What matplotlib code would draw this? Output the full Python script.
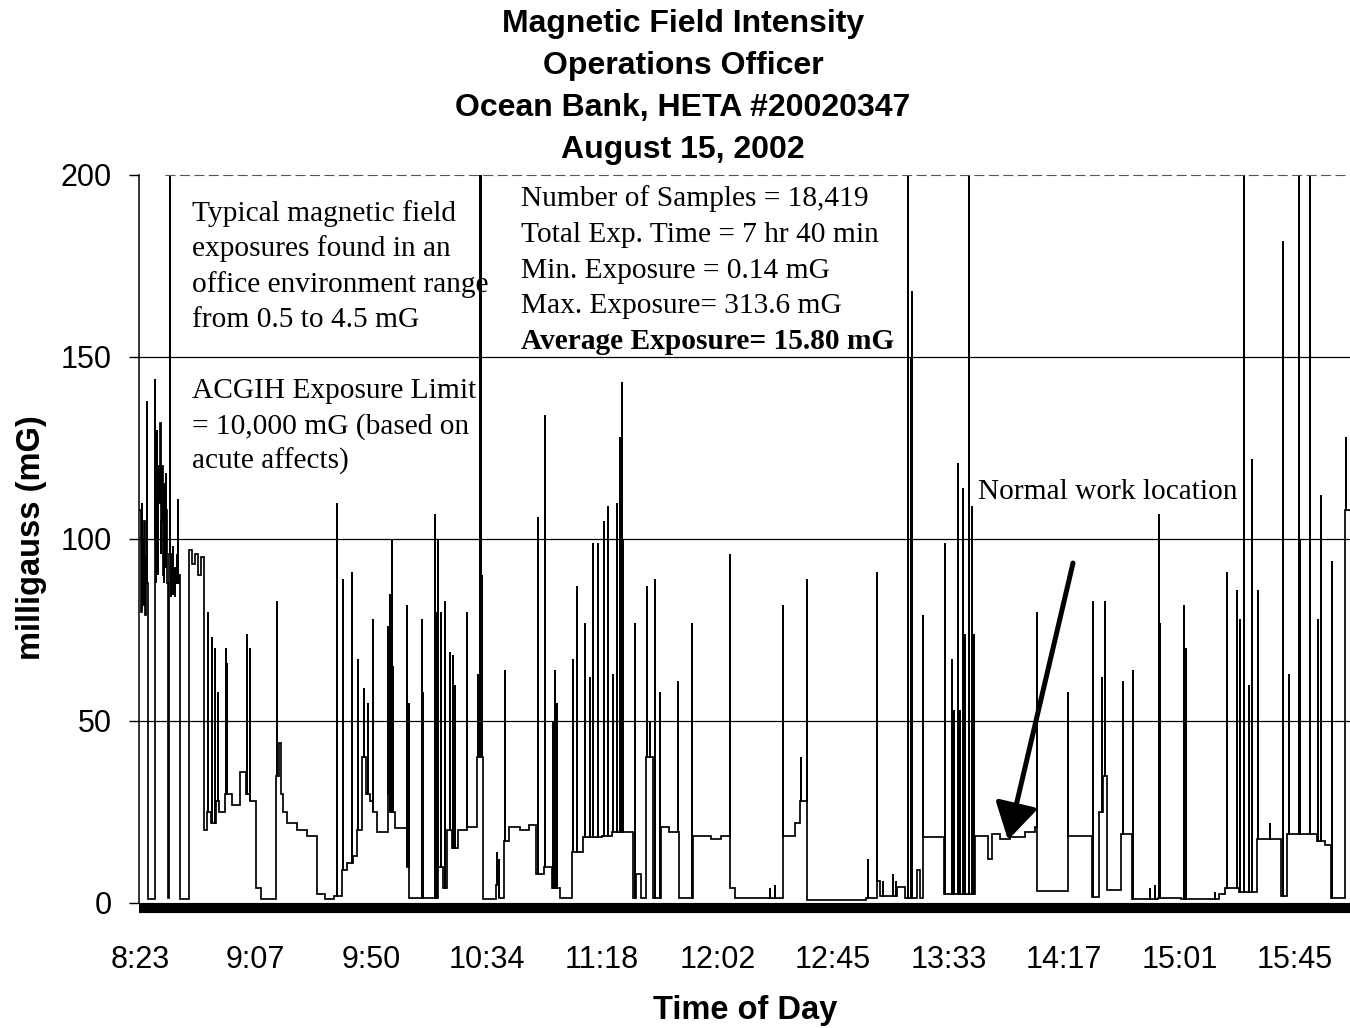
import matplotlib
matplotlib.use("Agg")
import matplotlib.pyplot as plt

# ---------------- data (x in tick-interval units of the category axis) ----------------
tick_labels = ["8:23", "9:07", "9:50", "10:34", "11:18", "12:02", "12:45",
               "13:33", "14:17", "15:01", "15:45"]

# background levels (mG) between spikes
seg_start = [-0.005, 0.005, 0.017, 0.026, 0.035, 0.043, 0.052, 0.061, 0.065, 0.128, 0.139, 0.147, 0.156, 0.165,
             0.173, 0.182, 0.190, 0.199, 0.208, 0.216, 0.225, 0.234, 0.242, 0.255, 0.277, 0.294, 0.312, 0.337,
             0.346, 0.424, 0.450, 0.476, 0.502, 0.528, 0.554, 0.580, 0.615, 0.658, 0.684, 0.736, 0.797, 0.866,
             0.918, 0.952, 1.004, 1.048, 1.178, 1.203, 1.221, 1.238, 1.273, 1.359, 1.446, 1.532, 1.602, 1.680,
             1.749, 1.792, 1.844, 1.879, 1.922, 1.957, 1.991, 2.017, 2.052, 2.147, 2.165, 2.208, 2.312, 2.329,
             2.537, 2.580, 2.623, 2.658, 2.701, 2.753, 2.831, 2.918, 2.970, 3.082, 3.108, 3.152, 3.195, 3.290,
             3.370, 3.429, 3.498, 3.567, 3.636, 3.740, 3.835, 3.896, 3.948, 4.000, 4.087, 4.268, 4.294, 4.338,
             4.381, 4.442, 4.511, 4.580, 4.667, 4.788, 4.944, 5.030, 5.108, 5.152, 5.567, 5.671, 5.714, 5.775,
             6.286, 6.381, 6.407, 6.554, 6.623, 6.727, 6.753, 6.779, 6.961, 7.229, 7.342, 7.377, 7.446, 7.532,
             7.662, 7.749, 7.766, 8.035, 8.242, 8.303, 8.338, 8.372, 8.494, 8.589, 8.814, 9.013, 9.342, 9.394,
             9.515, 9.671, 9.879, 9.931, 10.190, 10.260, 10.312, 10.433]
seg_end = seg_start[1:] + [10.49]
seg_level = [108, 80, 100, 82, 105, 79, 95, 88, 1.0, 100, 125, 95, 120, 110,
             132, 105, 120, 90, 115, 95, 108, 88, 1.5, 96, 85, 92, 88, 90,
             1.2, 97, 93, 96, 90, 95, 20, 25, 22, 28, 25, 30, 27, 36,
             30, 28, 4, 1.2, 35, 44, 30, 25, 22, 20, 18.5, 2.5, 1.0, 2,
             9, 11, 13, 20, 40, 30, 28, 25, 19.5, 30, 25, 20.5, 10, 1.3,
             1.5, 10, 4, 20, 15, 20, 21, 40, 1.2, 5, 1.5, 17, 21, 20,
             21.5, 8, 10, 4, 1.3, 14, 18, 18, 18, 18.5, 19.5, 1.5, 8, 1.5,
             40, 1.3, 21, 19.5, 1.3, 18.5, 17.5, 18.5, 4, 1.3, 18.5, 22, 28, 0.8,
             1.5, 6, 2, 4.5, 1.5, 9, 1.5, 18, 2.5, 18.5, 12, 19, 17.5, 18,
             19.5, 21, 3.2, 18.5, 1.7, 25, 35, 3.5, 19, 1.2, 1.5, 1.2, 2.5, 4,
             3, 17.5, 2, 19, 17, 16, 1.5, 108]

# short excursions (mG)
spike_pos = [0.009, 0.021, 0.030, 0.047, 0.056,
             0.063, 0.130, 0.135, 0.143, 0.151, 0.160, 0.169, 0.178, 0.186, 0.195, 0.203, 0.212, 0.221,
             0.229, 0.238, 0.260, 0.268, 0.285, 0.303, 0.320,
             0.329, 0.589, 0.623, 0.649, 0.675, 0.745, 0.753, 0.926, 0.955,
             1.186, 1.706, 1.758, 1.836, 1.887, 1.939, 1.974, 2.020, 2.150, 2.168, 2.182, 2.190,
             2.315, 2.325, 2.442, 2.450, 2.554, 2.571, 2.583, 2.606, 2.641, 2.684, 2.710, 2.727,
             2.834, 2.926, 2.944, 2.952, 2.961, 3.091, 3.110, 3.160, 3.446, 3.506, 3.576, 3.593,
             3.610, 3.749, 3.784, 3.853, 3.899, 3.922, 3.965, 4.017, 4.052, 4.095, 4.130, 4.156,
             4.173, 4.182, 4.286, 4.390, 4.416, 4.459, 4.502, 4.658, 4.779, 5.105, 5.455, 5.498,
             5.570, 5.723, 5.772, 6.303, 6.378, 6.433, 6.519, 6.545, 6.649, 6.675, 6.684, 6.776,
             6.970, 7.030, 7.048, 7.082, 7.100, 7.126, 7.143, 7.177, 7.203, 7.221, 7.763, 8.032,
             8.251, 8.329, 8.355, 8.511, 8.597, 8.745, 8.788, 8.823, 8.831, 9.039, 9.056, 9.307,
             9.411, 9.498, 9.524, 9.558, 9.602, 9.628, 9.680, 9.784, 9.896, 9.948, 10.035, 10.043,
             10.130, 10.199, 10.225, 10.320, 10.442]
spike_peak = [90, 110, 95, 100, 84,
              138, 144, 88, 118, 130, 90, 128, 96, 125, 100, 112, 88, 118,
              92, 104, 250, 84, 98, 84, 96,
              111, 80, 73, 70, 58, 70, 66, 74, 70,
              83, 110, 89, 91, 67, 59, 55, 78, 76, 85, 100, 65,
              82, 55, 78, 58, 107, 80, 100, 80, 83, 69, 68, 60,
              80, 63, 313.6, 250, 90, 14, 12, 64, 106, 134, 50, 64,
              55, 67, 87, 77, 62, 99, 99, 105, 109, 63, 110, 128,
              143, 100, 77, 87, 50, 89, 58, 61, 77, 96, 4, 5,
              82, 40, 89, 12, 91, 6, 8, 6, 250, 150, 168, 79,
              99, 67, 53, 121, 53, 114, 74, 250, 109, 74, 80, 58,
              83, 62, 83, 61, 64, 4, 5, 107, 77, 82, 70, 3,
              91, 86, 78, 250, 60, 122, 86, 22, 182, 63, 250, 100,
              250, 78, 112, 94, 128]

# ---------------- build the trace ----------------
spikes = sorted(zip(spike_pos, spike_peak))
xs, ys = [], []
for s, e, lvl in zip(seg_start, seg_end, seg_level):
    xs.append(s); ys.append(lvl)
    for p, h in spikes:
        if s <= p < e:
            xs += [p, p, p]; ys += [lvl, h, lvl]
    xs.append(e); ys.append(lvl)

SANS = "Liberation Sans"
SERIF = "Liberation Serif"
W, H = 1350, 1028

fig = plt.figure(figsize=(13.5, 10.28), dpi=100)
ax = fig.add_axes([138.5 / W, (H - 903) / H, (W - 138.5) / W, 728 / H])

ax.plot(xs, ys, color="black", lw=1.25, solid_joinstyle="miter")

ax.set_xlim(-0.013, 10.476)
ax.set_ylim(0, 200)

ax.set_yticks([0, 50, 100, 150, 200])
ax.set_yticklabels(["0", "50", "100", "150", "200"], fontfamily=SANS, fontsize=22)
ax.yaxis.grid(True, color="black", lw=0.9)
gls = ax.get_ygridlines()
gls[0].set_visible(False)
gls[-1].set_visible(False)
ax.tick_params(axis="y", direction="out", length=7.5, width=1.0, pad=12, colors="black")

ax.set_xticks(range(len(tick_labels)))
ax.set_xticklabels(tick_labels, fontfamily=SANS, fontsize=22)
ax.tick_params(axis="x", length=0, pad=30)

ax.spines["right"].set_visible(False)
ax.spines["left"].set_linewidth(1.1)
ax.spines["top"].set_visible(False)
ax.spines["bottom"].set_visible(False)
# faint broken frame line along the top (as in the scanned original)
ax.plot([0.22, 10.476], [200, 200], color="#555555", lw=0.8,
        linestyle=(0, (9, 4)), clip_on=False)
ax.axhline(-1.37, color="black", lw=7.3, clip_on=False, solid_capstyle="butt")
ax.set_axisbelow(True)


def fx(px):
    return px / W


def fy(py):
    return 1 - py / H


# title
for txt, base in [("Magnetic Field Intensity", 32), ("Operations Officer", 74),
                  ("Ocean Bank, HETA #20020347", 116), ("August 15, 2002", 158)]:
    fig.text(fx(683), fy(base), txt, ha="center", va="baseline",
             fontfamily=SANS, fontweight="bold", fontsize=23)

fig.text(fx(32), fy(538), "milligauss (mG)", rotation=90, ha="center", va="center",
         fontfamily=SANS, fontweight="bold", fontsize=23.5)
fig.text(fx(745), fy(1011), "Time of Day", ha="center", va="center",
         fontfamily=SANS, fontweight="bold", fontsize=23.5)

block1 = ["Typical magnetic field", "exposures found in an",
          "office environment range", "from 0.5 to 4.5 mG"]
for i, t in enumerate(block1):
    fig.text(fx(192), fy(221 + 35.4 * i), t, ha="left", va="baseline",
             fontfamily=SERIF, fontsize=21.2)

block2 = ["ACGIH Exposure Limit", "= 10,000 mG (based on", "acute affects)"]
for i, t in enumerate(block2):
    fig.text(fx(192), fy(398 + 35.2 * i), t, ha="left", va="baseline",
             fontfamily=SERIF, fontsize=21.2)

stats = ["Number of Samples = 18,419", "Total Exp. Time = 7 hr 40 min",
         "Min. Exposure = 0.14 mG", "Max. Exposure= 313.6 mG",
         "Average Exposure= 15.80 mG"]
for i, t in enumerate(stats):
    fig.text(fx(521), fy(206 + 35.8 * i), t, ha="left", va="baseline",
             fontfamily=SERIF, fontsize=21.2,
             fontweight="bold" if i == 4 else "normal")

fig.text(fx(978), fy(499), "Normal work location", ha="left", va="baseline",
         fontfamily=SERIF, fontsize=21.2)

ax.annotate("", xy=(7.515, 17.3), xytext=(8.078, 93.4),
            arrowprops=dict(arrowstyle="-|>,head_length=1.1,head_width=0.65",
                            mutation_scale=20, lw=3.6, color="black",
                            shrinkA=0, shrinkB=0))

fig.savefig("out.png", dpi=100)
